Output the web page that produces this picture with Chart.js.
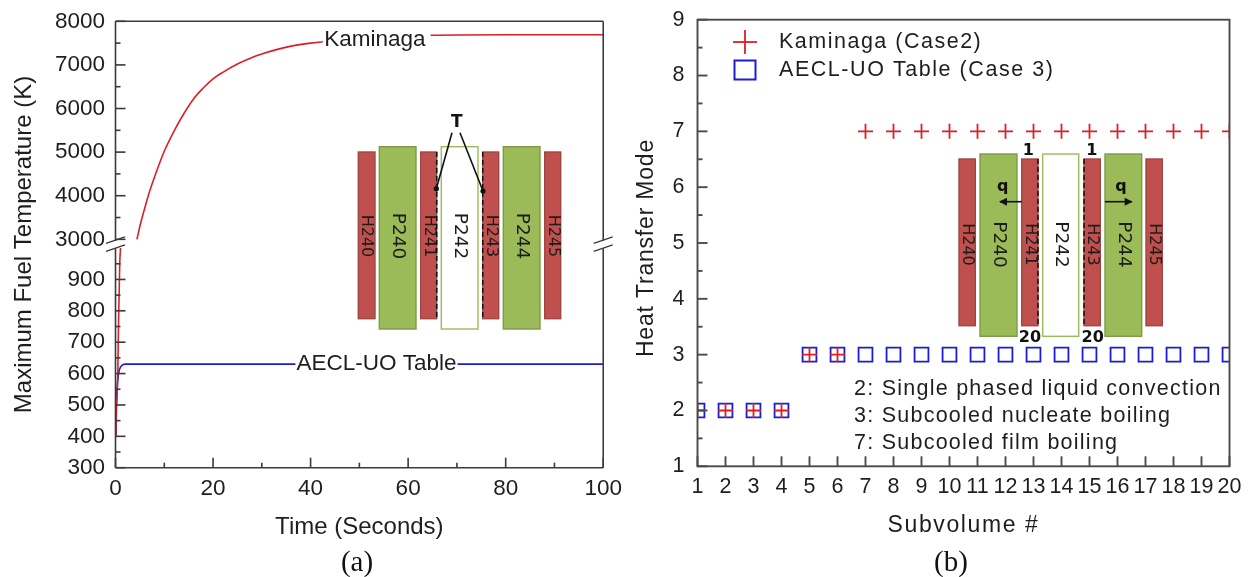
<!DOCTYPE html>
<html><head><meta charset="utf-8">
<style>
html,body{margin:0;padding:0;background:#fff;width:1252px;height:577px;overflow:hidden}
canvas{position:absolute;top:0;filter:blur(0.35px)}
#wa{position:absolute;left:0;top:0;width:630px;height:577px}
#wb{position:absolute;left:630px;top:0;width:622px;height:577px}
</style>
<script src="https://cdn.jsdelivr.net/npm/chart.js@4/dist/chart.umd.js"></script>
</head><body>
<div id="wa"><canvas id="a"></canvas></div>
<div id="wb"><canvas id="b"></canvas></div>
<script>
// ---- data: panel (a)
const kaminagaTime = [0.07,0.2,0.47,0.63,0.87,1.03,null,4.4,5,6,7,8,10,12,14,16,18,20,22,25,28,30,33,36,40,42.5,null,64.6,70,80,90,100];
const kaminagaTemp = [400,480,600,770,950,1000,null,3000,3300,3720,4100,4430,5020,5480,5880,6220,6470,6680,6830,7020,7170,7250,7350,7430,7500,7530,null,7680,7685,7690,7690,7690];
const aeclTime = [0,0.1,0.2,0.4,0.6,0.8,1,1.3,1.6,2,10,50,100];
const aeclTemp = [400,470,520,570,598,612,620,626,629,630,630,630,630];
const tempTicks = [300,400,500,600,700,800,900,3000,4000,5000,6000,7000,8000];
const tempMinor = [350,450,550,650,750,850,950,3500,4500,5500,6500,7500];
const timeMinor = [10,30,50,70,90];
// ---- data: panel (b)
const subvolumes = [1,2,3,4,5,6,7,8,9,10,11,12,13,14,15,16,17,18,19,20];
const kaminagaMode = [2,2,2,2,3,3,7,7,7,7,7,7,7,7,7,7,7,7,7,7];
const aeclMode = [2,2,2,2,3,3,3,3,3,3,3,3,3,3,3,3,3,3,3,3];
const modeMinor = [1.5,2.5,3.5,4.5,5.5,6.5,7.5,8.5];
const modeNotes = ['2: Single phased liquid convection','3: Subcooled nucleate boiling','7: Subcooled film boiling'];

const SANS='"Liberation Sans",Arial,sans-serif', INK='#1e1e1e', AXIS='#3a3a3a', RED='#dc1f26', BLUE='#1c1cd0';
const H_RED='#c0504d', H_RED_E='#a04644', P_GREEN='#9bbb59', P_GREEN_E='#7f9a48';

// Axis with a break between 1000 and 3000
class BrokenLinear extends Chart.LinearScale {
  static id='brokenLinear';
  _frac(v){ return v<=1000 ? (v-300)/700*0.492 : v>=3000 ? 0.5116+(v-3000)/5000*(1-0.5116) : 0.492+(v-1000)/2000*0.0196; }
  getPixelForValue(v){ return this.bottom-(this.bottom-this.top)*this._frac(v); }
  getValueForPixel(p){ const f=(this.bottom-p)/(this.bottom-this.top);
    return f<=0.492 ? 300+f/0.492*700 : f>=0.5116 ? 3000+(f-0.5116)/(1-0.5116)*5000 : 1000+(f-0.492)/0.0196*2000; }
}
Chart.register(BrokenLinear);

function zip(xs,ys){return xs.map((x,i)=>({x:x===null?NaN:x,y:ys[i]}));}
function spaced(scale,px,dy){
  const orig=scale.drawTitle;
  if(scale._sp) return; scale._sp=true;
  scale.drawTitle=function(){const c=this.ctx;c.save();c.letterSpacing=px+'px';if(dy)c.translate(0,dy);orig.apply(this,arguments);c.restore();};
}
function line(c,x1,y1,x2,y2){c.beginPath();c.moveTo(x1,y1);c.lineTo(x2,y2);c.stroke();}
function bar(c,x1,x2,y1,y2,fill,edge){c.fillStyle=fill;c.strokeStyle=edge;c.lineWidth=1.4;c.fillRect(x1,y1,x2-x1,y2-y1);c.strokeRect(x1,y1,x2-x1,y2-y1);}
function vtext(c,s,x,y,font){c.save();c.translate(x,y);c.rotate(Math.PI/2);c.font=font;c.fillStyle='#1c1c1c';c.textAlign='center';c.textBaseline='middle';c.fillText(s,0,0);c.restore();}
function schematic(c,xs,hTop,hBot,pTop,pBot,labelY){
  const names=['H240','P240','H241','P242','H243','P244','H245'];
  names.forEach((n,i)=>{
    const [x1,x2]=xs[i];
    if(n[0]==='H') bar(c,x1,x2,hTop,hBot,H_RED,H_RED_E);
    else if(n==='P242') bar(c,x1,x2,pTop,pBot,'#fff',P_GREEN);
    else bar(c,x1,x2,pTop,pBot,P_GREEN,P_GREEN_E);
    vtext(c,n,(x1+x2)/2,labelY,(n[0]==='H'?'16px':'18.5px')+' "DejaVu Sans"');
  });
  c.save();c.strokeStyle='#111';c.lineWidth=1.5;c.setLineDash([5,3]);
  line(c,xs[2][1],hTop,xs[2][1],hBot);line(c,xs[4][0],hTop,xs[4][0],hBot);c.restore();
}
function label(c,s,x,y,font,bg,ls){
  c.save();c.font=font;c.letterSpacing=(ls||0)+'px';c.textBaseline='middle';c.textAlign='left';
  const w=c.measureText(s).width;
  if(bg){c.fillStyle='#fff';c.fillRect(x-w/2-1,y-12,w+2,24);}
  c.fillStyle=INK;c.fillText(s,bg?x-w/2:x,y);c.restore();
}
function arrow(c,x1,x2,y){c.strokeStyle='#111';c.fillStyle='#111';c.lineWidth=1.6;line(c,x1,y,x2,y);
  const d=x2>x1?1:-1;c.beginPath();c.moveTo(x2+d*1,y);c.lineTo(x2-d*7,y-4);c.lineTo(x2-d*7,y+4);c.closePath();c.fill();}
function centre(c,s,x,y,font){c.font=font;c.fillStyle='#111';c.textAlign='center';c.textBaseline='middle';c.fillText(s,x,y);}
function noPad(s){s.paddingTop=0;s.paddingBottom=0;}

const panelA={id:'panelA',
  afterDatasetsDraw(ch){
    const c=ch.ctx,{left,right,top,bottom}=ch.chartArea,x=ch.scales.x,y=ch.scales.y;
    c.save();
    label(c,'Kaminaga',x.getPixelForValue(53.2),40,'22.5px '+SANS,true);
    label(c,'AECL-UO Table',x.getPixelForValue(53.5),y.getPixelForValue(630),'22.5px '+SANS,true);
    // frame with axis break
    const gapA=y.getPixelForValue(3000)+1.5, gapB=gapA+7.5;
    c.strokeStyle=AXIS;c.lineWidth=1.6;
    line(c,left,top,right,top);line(c,left,bottom,right,bottom);
    [left,right].forEach(px=>{line(c,px,top,px,gapA);line(c,px,gapB,px,bottom);
      c.lineWidth=1.4;
      line(c,px-9.5,gapA+2.5,px+9.5,gapA-4);line(c,px-9.5,gapB+3,px+9.5,gapB-3.5);c.lineWidth=1.6;});
    tempTicks.forEach(v=>{const p=y.getPixelForValue(v);line(c,left,p,left+10,p);});
    tempMinor.forEach(v=>{const p=y.getPixelForValue(v);line(c,left,p,left+5,p);});
    [0,20,40,60,80,100].forEach(v=>{const p=x.getPixelForValue(v);line(c,p,bottom,p,bottom-10);});
    timeMinor.forEach(v=>{const p=x.getPixelForValue(v);line(c,p,bottom,p,bottom-5);});
    // inset
    schematic(c,[[358.3,375],[379.3,416],[420.7,436.7],[441.3,478],[482.7,498.7],[503.3,540],[544.7,560.7]],152,318.7,146.7,329,236);
    c.strokeStyle='#111';c.fillStyle='#111';c.lineWidth=1.6;
    line(c,452,132.7,436.3,188.7);line(c,460,132.7,483,191);
    [[436.3,188.7],[483,191]].forEach(p=>{c.beginPath();c.arc(p[0],p[1],2.6,0,7);c.fill();});
    centre(c,'T',456.7,122.7,'bold 17px "DejaVu Sans"');
    c.restore();
  }};

const panelB={id:'panelB',
  beforeDraw(ch){ spaced(ch.scales.x,1.6);spaced(ch.scales.y,0.8,5); },
  beforeDatasetsDraw(ch){
    const c=ch.ctx;c.save();
    schematic(c,[[959,975.3],[980,1017],[1021.7,1038],[1042.7,1078.7],[1084,1100.3],[1105,1141.7],[1146,1162.3]].map(a=>a.map(v=>v-630)),159,325.7,154,336.3,244.5);
    arrow(c,391.7,370,201.7);arrow(c,475,501.7,201.7);
    const b='bold 16px "DejaVu Sans"';
    centre(c,'1',398.3,150.7,b);centre(c,'1',461.7,150.7,b);
    centre(c,'20',400,338.3,b);centre(c,'20',462.7,338.3,b);
    centre(c,'q',372.7,186.7,b);centre(c,'q',491,186.7,b);
    c.restore();
  },
  afterDatasetsDraw(ch){
    const c=ch.ctx,{left,right,top,bottom}=ch.chartArea,x=ch.scales.x,y=ch.scales.y;
    c.save();
    c.strokeStyle='#4a4a4a';c.lineWidth=1.9;c.strokeRect(left,top,right-left,bottom-top);
    subvolumes.forEach(v=>{const p=x.getPixelForValue(v);line(c,p,bottom,p,bottom-10);});
    [1,2,3,4,5,6,7,8,9].forEach(v=>{const p=y.getPixelForValue(v);line(c,left,p,left+10,p);});
    modeMinor.forEach(v=>{const p=y.getPixelForValue(v);line(c,left,p,left+5,p);});
    // legend
    const lx=115;
    c.strokeStyle=RED;c.lineWidth=1.8;line(c,lx-12,42,lx+12,42);line(c,lx,30,lx,54);
    c.strokeStyle=BLUE;c.lineWidth=2;c.strokeRect(lx-10.5,60.5,21,19);
    const f='21.5px '+SANS;
    label(c,'Kaminaga (Case2)',149,42,f,false,1.5);
    label(c,'AECL-UO Table (Case 3)',149,70,f,false,1.55);
    modeNotes.forEach((s,i)=>label(c,s,224,389+27*i,f,false,1.25));
    c.restore();
  }};

const common={responsive:false,animation:false,events:[],plugins:{legend:{display:false},tooltip:{enabled:false}}};

const ca=document.getElementById('a');ca.width=630;ca.height=577;
new Chart(ca,{type:'scatter',plugins:[panelA],
  data:{datasets:[
    {label:'Kaminaga',data:zip(kaminagaTime,kaminagaTemp),showLine:true,borderColor:RED,borderWidth:1.6,pointRadius:0,cubicInterpolationMode:'monotone',spanGaps:false},
    {label:'AECL-UO Table',data:zip(aeclTime,aeclTemp),showLine:true,borderColor:BLUE,borderWidth:1.6,pointRadius:0,tension:0}
  ]},
  options:{...common,layout:{padding:{left:0,right:630-603.5,top:21.3,bottom:0}},
    scales:{
      x:{type:'linear',min:0,max:100,
        ticks:{stepSize:20,color:INK,font:{family:SANS,size:22.5},padding:8,maxRotation:0,autoSkip:false},
        grid:{drawOnChartArea:false,drawTicks:false},border:{display:false},
        title:{display:true,text:'Time (Seconds)',color:INK,font:{family:SANS,size:24},padding:{top:0,bottom:35.5}},
        afterFit(s){s.height=577-467.7;}},
      y:{type:'brokenLinear',min:300,max:8000,
        afterBuildTicks(s){s.ticks=tempTicks.map(v=>({value:v}));},
        ticks:{color:INK,font:{family:SANS,size:22.5},padding:10.5,autoSkip:false,callback:v=>String(v)},
        grid:{drawOnChartArea:false,drawTicks:false},border:{display:false},
        title:{display:true,text:'Maximum Fuel Temperature (K)',color:INK,font:{family:SANS,size:24},padding:{top:10,bottom:0}},
        afterFit(s){s.width=115.5;noPad(s);}}}}});

const cb=document.getElementById('b');cb.width=622;cb.height=577;
new Chart(cb,{type:'scatter',plugins:[panelB],
  data:{datasets:[
    {label:'Kaminaga (Case2)',data:zip(subvolumes,kaminagaMode),pointStyle:'cross',pointRadius:7.5,pointBorderColor:RED,pointBorderWidth:1.8,borderColor:RED,backgroundColor:'transparent'},
    {label:'AECL-UO Table (Case 3)',data:zip(subvolumes,aeclMode),pointStyle:'rect',pointRadius:9.8,pointBorderColor:BLUE,pointBorderWidth:1.8,borderColor:BLUE,backgroundColor:'transparent',pointBackgroundColor:'transparent'}
  ]},
  options:{...common,layout:{padding:{left:0,right:622-599.5,top:19.7,bottom:0}},
    scales:{
      x:{type:'linear',min:1,max:20,
        afterBuildTicks(s){s.ticks=subvolumes.map(v=>({value:v}));},
        ticks:{color:INK,font:{family:SANS,size:21.5},padding:8,maxRotation:0,autoSkip:false,callback:v=>String(v)},
        grid:{drawOnChartArea:false,drawTicks:false},border:{display:false},
        title:{display:true,text:'Subvolume #',color:INK,font:{family:SANS,size:23},padding:{top:0,bottom:38}},
        afterFit(s){s.height=577-466.3;}},
      y:{type:'linear',min:1,max:9,
        ticks:{stepSize:1,color:INK,font:{family:SANS,size:21.5},padding:13,autoSkip:false},
        grid:{drawOnChartArea:false,drawTicks:false},border:{display:false},
        title:{display:true,text:'Heat Transfer Mode',color:INK,font:{family:SANS,size:23},padding:{top:3,bottom:0}},
        afterFit(s){s.width=67.5;noPad(s);}}}}});

// panel captions
const cap=[['(a)',357],['(b)',951]];
cap.forEach(([t,x])=>{const d=document.createElement('div');d.textContent=t;
  d.style.cssText='position:absolute;top:546px;left:'+(x-30)+'px;width:60px;text-align:center;font:29px/30px "Liberation Serif",serif;color:#111';
  document.body.appendChild(d);});
</script>
</body></html>
